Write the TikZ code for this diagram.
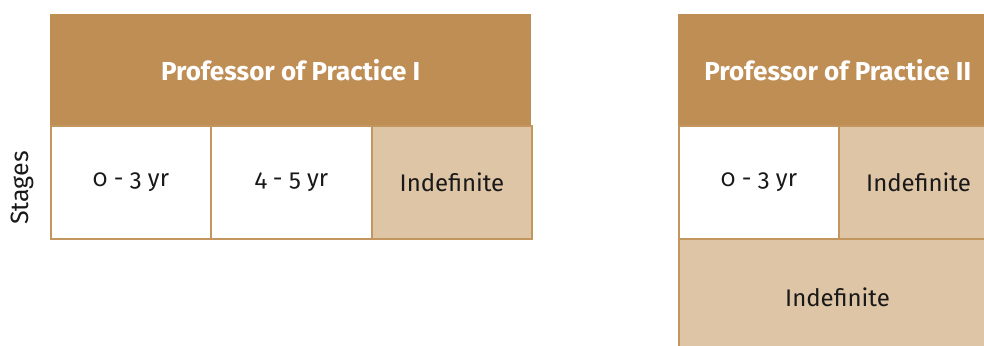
\documentclass[tikz,border=0pt]{standalone}
\usepackage{fontspec}
\setmainfont{Fira Sans}[Numbers=OldStyle]
\definecolor{hdr}{HTML}{BF8E55}
\definecolor{lt}{HTML}{DEC5A6}
\definecolor{bd}{HTML}{C4965F}
\begin{document}
\begin{tikzpicture}[x=1pt,y=-1pt,
  header/.style={fill=hdr,draw=none,text=white,font=\fontsize{26}{30}\selectfont\bfseries,anchor=north west,inner sep=0pt},
  cell/.style={draw=bd,line width=2pt,anchor=north west,inner sep=0pt,font=\fontsize{24}{28}\selectfont,text=black!90},
  whitecell/.style={cell,fill=white},
  tancell/.style={cell,fill=lt}]
\useasboundingbox (0,0) rectangle (984,345);
\clip (0,0) rectangle (984,345);
% left block
\node[whitecell,minimum width=160pt,minimum height=113pt] (a1) at (50,125) {0 - 3 yr};
\node[whitecell,minimum width=161pt,minimum height=113pt] (a2) at (210,125) {4 - 5 yr};
\node[tancell,minimum width=160pt,minimum height=113pt] (a3) at (371,125) {Indefinite};
\node[header,minimum width=481pt,minimum height=111pt] (h1) at (50,14) {Professor of Practice I};
% right block
\node[whitecell,minimum width=160pt,minimum height=113pt] (b1) at (678,125) {0 - 3 yr};
\node[tancell,minimum width=159pt,minimum height=113pt] (b2) at (838,125) {Indefinite};
\node[tancell,minimum width=319pt,minimum height=120pt] (b3) at (678,238) {};
\node[font=\fontsize{24}{28}\selectfont,text=black!90] (b3t) at (837.5,297) {Indefinite};
\node[header,minimum width=319pt,minimum height=111pt] (h2) at (678,14) {Professor of Practice II};
% side label
\node[rotate=90,font=\fontsize{25}{30}\selectfont,text=black!90] (st) at (22,188) {Stages};
\end{tikzpicture}
\end{document}
